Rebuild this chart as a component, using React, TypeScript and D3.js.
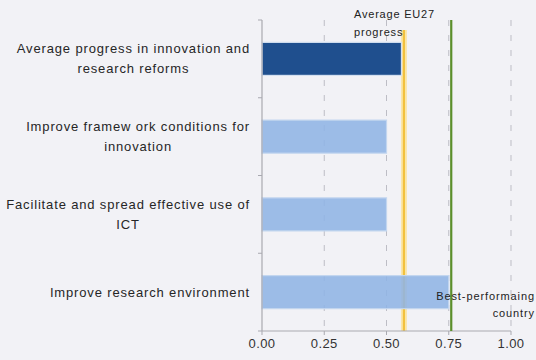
import React, { useMemo } from "react";
import * as d3 from "d3";

const categories: string[][] = [
  ["Average progress in innovation and", "research reforms"],
  ["Improve framew ork conditions for", "innovation"],
  ["Facilitate and spread effective use of", "ICT"],
  ["Improve research environment"],
];
const values: number[] = [0.56, 0.5, 0.5, 0.75];
const highlight: boolean[] = [true, false, false, false];
const xTicks: number[] = [0, 0.25, 0.5, 0.75, 1.0];
const avgEU27 = 0.57;
const bestPerforming = 0.76;
const avgLabel: string[] = ["Average EU27", "progress"];
const bestLabel: string[] = ["Best-performaing", "country"];

const W = 536;
const H = 360;
const FONT = "'Liberation Sans', Arial, sans-serif";

function measure(text: string, size: number, spacing: number): number {
  if (typeof document === "undefined") return text.length * size * 0.55;
  const c = document.createElement("canvas");
  const ctx = c.getContext("2d")!;
  ctx.font = `${size}px ${FONT}`;
  return ctx.measureText(text).width + spacing * text.length;
}

export default function App() {
  const x = d3.scaleLinear().domain([0, 1]).range([262, 511]);
  const y = d3
    .scaleBand<number>()
    .domain(d3.range(categories.length))
    .range([20, 331])
    .paddingInner(0.575)
    .paddingOuter(0.2875);
  const band = d3.scaleBand<number>().domain(d3.range(categories.length)).range([20, 331]);
  const top = 20;
  const bottom = 331;
  const labelSize = 13;
  const labelSpacing = 0.85;
  const lineH = 20;

  const labelCenters = useMemo(
    () =>
      categories.map((lines) => {
        const wmax = Math.max(...lines.map((l) => measure(l, labelSize, labelSpacing)));
        return 250 - wmax / 2;
      }),
    []
  );

  return (
    <svg width={W} height={H} style={{ position: "absolute", left: 0, top: 0, fontFamily: FONT }}>
      <rect x={0} y={0} width={W} height={H} fill="#f2f2f6" />
      {/* gridlines */}
      {xTicks.slice(1).map((t, i) => (
        <line
          key={"g" + i}
          x1={x(t)}
          x2={x(t)}
          y1={top}
          y2={bottom}
          stroke="#bdbdc5"
          strokeWidth={1}
          strokeDasharray="6,9"
        />
      ))}
      {/* avg EU27 line (behind bars) */}
      <line x1={x(avgEU27)} x2={x(avgEU27)} y1={top + 10} y2={bottom} stroke="#fbe6a8" strokeWidth={6} />
      <line x1={x(avgEU27)} x2={x(avgEU27)} y1={top + 10} y2={bottom} stroke="#f2c13e" strokeWidth={2.2} />
      {/* bars */}
      {values.map((v, i) => (
        <rect
          key={"b" + i}
          x={x(0)}
          y={y(i)!}
          width={x(v) - x(0)}
          height={y.bandwidth()}
          fill={highlight[i] ? "#1f4f8e" : "#8fb4e5"}
          fillOpacity={highlight[i] ? 1 : 0.88}
          stroke={highlight[i] ? "#d4e0f0" : "#c3d6ef"}
          strokeWidth={1.2}
        />
      ))}
      {/* left axis */}
      <line x1={x(0)} x2={x(0)} y1={top} y2={bottom} stroke="#a9a9b0" strokeWidth={1.2} />
      {d3.range(categories.length + 1).map((i) => {
        const yy = i < categories.length ? band(i)! : bottom;
        return <line key={"lt" + i} x1={x(0) - 4} x2={x(0)} y1={yy} y2={yy} stroke="#a9a9b0" />;
      })}
      {/* bottom axis */}
      <line x1={x(0)} x2={x(1)} y1={bottom} y2={bottom} stroke="#a9a9b0" strokeWidth={1.2} />
      {xTicks.map((t, i) => (
        <g key={"xt" + i}>
          <line x1={x(t)} x2={x(t)} y1={bottom} y2={bottom + 4} stroke="#a9a9b0" />
          <text
            x={x(t)}
            y={bottom + 17}
            textAnchor="middle"
            fontSize={13}
            fill="#333"
            letterSpacing={0.4}
          >
            {d3.format(".2f")(t)}
          </text>
        </g>
      ))}
      {/* best performing */}
      <line x1={x(bestPerforming)} x2={x(bestPerforming)} y1={top} y2={bottom} stroke="#5c8f2c" strokeWidth={2.2} />
      {/* labels for reference lines */}
      {avgLabel.map((l, i) => (
        <text key={"al" + i} x={354} y={18 + i * 18} fontSize={11} fill="#222" letterSpacing={0.8}>
          {l}
        </text>
      ))}
      {bestLabel.map((l, i) => (
        <text
          key={"bl" + i}
          x={W - 1}
          y={y(3)! + y.bandwidth() / 2 + 8 + i * 17}
          fontSize={11}
          fill="#222"
          textAnchor="end"
          letterSpacing={0.9}
        >
          {l}
        </text>
      ))}
      {/* category labels */}
      {categories.map((lines, i) => {
        const cy = y(i)! + y.bandwidth() / 2;
        const startY = cy - ((lines.length - 1) * lineH) / 2 + 4.5;
        return lines.map((l, j) => (
          <text
            key={"c" + i + "-" + j}
            x={labelCenters[i]}
            y={startY + j * lineH}
            textAnchor="middle"
            fontSize={labelSize}
            fill="#262626"
            letterSpacing={labelSpacing}
          >
            {l}
          </text>
        ));
      })}
    </svg>
  );
}
